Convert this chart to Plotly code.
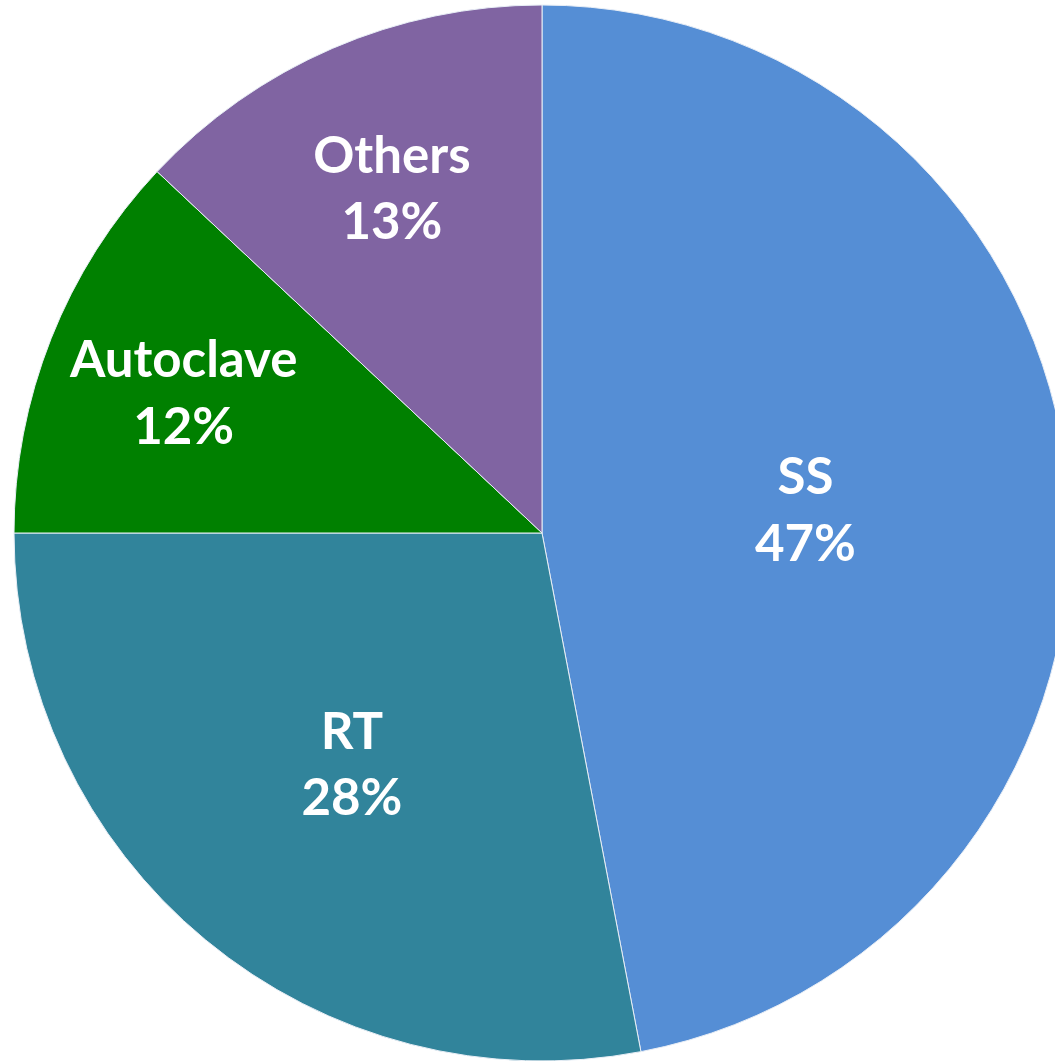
import plotly.graph_objects as go

categories = ["SS", "RT", "Autoclave", "Others"]
shares = [47, 28, 12, 13]
colors = ["#558ED5", "#31849B", "#008000", "#8064A2"]

fig = go.Figure(go.Pie(
    labels=categories,
    values=shares,
    sort=False,
    direction="clockwise",
    rotation=0,
    marker=dict(colors=colors, line=dict(color="#E8EEF6", width=1)),
    textinfo="label+percent",
    texttemplate="<b>%{label}</b><br><b>%{percent:.0%}</b>",
    textposition="inside",
    insidetextorientation="horizontal",
    textfont=dict(family="Lato", size=51, color="white"),
    showlegend=False,
    hoverinfo="skip",
))
fig.update_layout(
    width=1084, height=1061,
    margin=dict(l=0, r=0, t=5, b=0),
    paper_bgcolor="white",
)
fig.write_html(
    "out.html",
    config={"displayModeBar": False},
    post_script="document.body.style.margin='0';document.body.style.overflow='hidden';document.documentElement.style.overflow='hidden';",
)
